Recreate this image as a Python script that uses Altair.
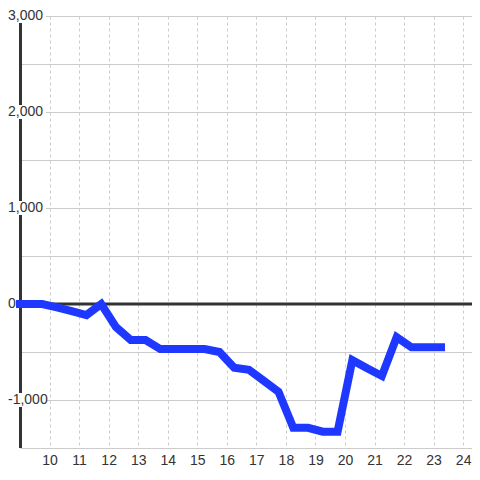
import altair as alt
import pandas as pd

# ---- data ----
hours = [9.0, 9.75, 10.25, 10.75, 11.25, 11.75, 12.25, 12.75, 13.25, 13.75,
         14.25, 14.75, 15.25, 15.75, 16.25, 16.75, 17.25, 17.75, 18.25, 18.75,
         19.25, 19.75, 20.25, 20.75, 21.25, 21.75, 22.25, 22.75, 23.25]
values = [0, 0, -35, -75, -115, 0, -240, -375, -375, -470,
          -470, -470, -470, -500, -665, -685, -800, -915, -1290, -1290,
          -1330, -1330, -585, -670, -750, -345, -450, -450, -450]

x_ticks = list(range(10, 25))
y_grid = [-1500, -1000, -500, 0, 500, 1000, 1500, 2000, 2500, 3000]
y_label_vals = [-1000, 0, 1000, 2000, 3000]
y_label_text = ["-1,000", "0", "1,000", "2,000", "3,000"]
bg_vals = [-1000, 1000, 2000, 3000]
zero_val = [0]

FONT = "Liberation Sans"
DARK = "#333333"
GRID = "#cccccc"
BLUE = "#1f38ff"

df = pd.DataFrame({"h": hours, "v": values})
lab_df = pd.DataFrame({"v": y_label_vals, "t": y_label_text})
bg_df = pd.DataFrame({"v": bg_vals})
zero_df = pd.DataFrame({"v": zero_val})

xscale = alt.Scale(domain=[9, 24.3], nice=False, zero=False)
yscale = alt.Scale(domain=[-1500, 3000], nice=False, zero=False)
yaxis = alt.Axis(values=y_grid, grid=True, gridColor=GRID, gridWidth=1,
                 labels=False, ticks=False, domain=False, title=None)
xaxis = alt.Axis(values=x_ticks, grid=True, gridColor=GRID, gridDash=[3, 3],
                 gridWidth=1, ticks=False, domain=False, labelFontSize=14,
                 labelColor=DARK, labelFont=FONT, labelPadding=5,
                 labelFlush=False, title=None)

Y = lambda: alt.Y("v:Q", scale=yscale, axis=yaxis)

left_axis = alt.Chart(zero_df).mark_rule(color=DARK, strokeWidth=3).encode(
    x=alt.value(0.5), y=alt.value(0), y2=alt.value(432)
)

label_bg = alt.Chart(bg_df).mark_rect(
    color="white", opacity=1, yOffset=-7, y2Offset=7
).encode(x=alt.value(-12), x2=alt.value(26), y=Y(), y2="v:Q")

zero_rule = alt.Chart(zero_df).mark_rule(color=DARK, strokeWidth=3).encode(y=Y())

labels = alt.Chart(lab_df).mark_text(
    align="left", baseline="middle", fontSize=14, font=FONT, color=DARK
).encode(x=alt.value(-12), y=Y(), text="t:N")

line = alt.Chart(df).mark_line(
    color=BLUE, strokeWidth=8, strokeCap="square", strokeJoin="miter"
).encode(x=alt.X("h:Q", scale=xscale, axis=xaxis), y=Y())

chart = alt.layer(left_axis, label_bg, zero_rule, labels, line).properties(
    width=452, height=432,
    autosize=alt.AutoSizeParams(type="none"),
    padding={"left": 12, "top": 8, "right": 0, "bottom": 20},
    background="white",
).configure_view(strokeWidth=0)

chart.save("out.html", embed_options={"renderer": "svg", "actions": False})
